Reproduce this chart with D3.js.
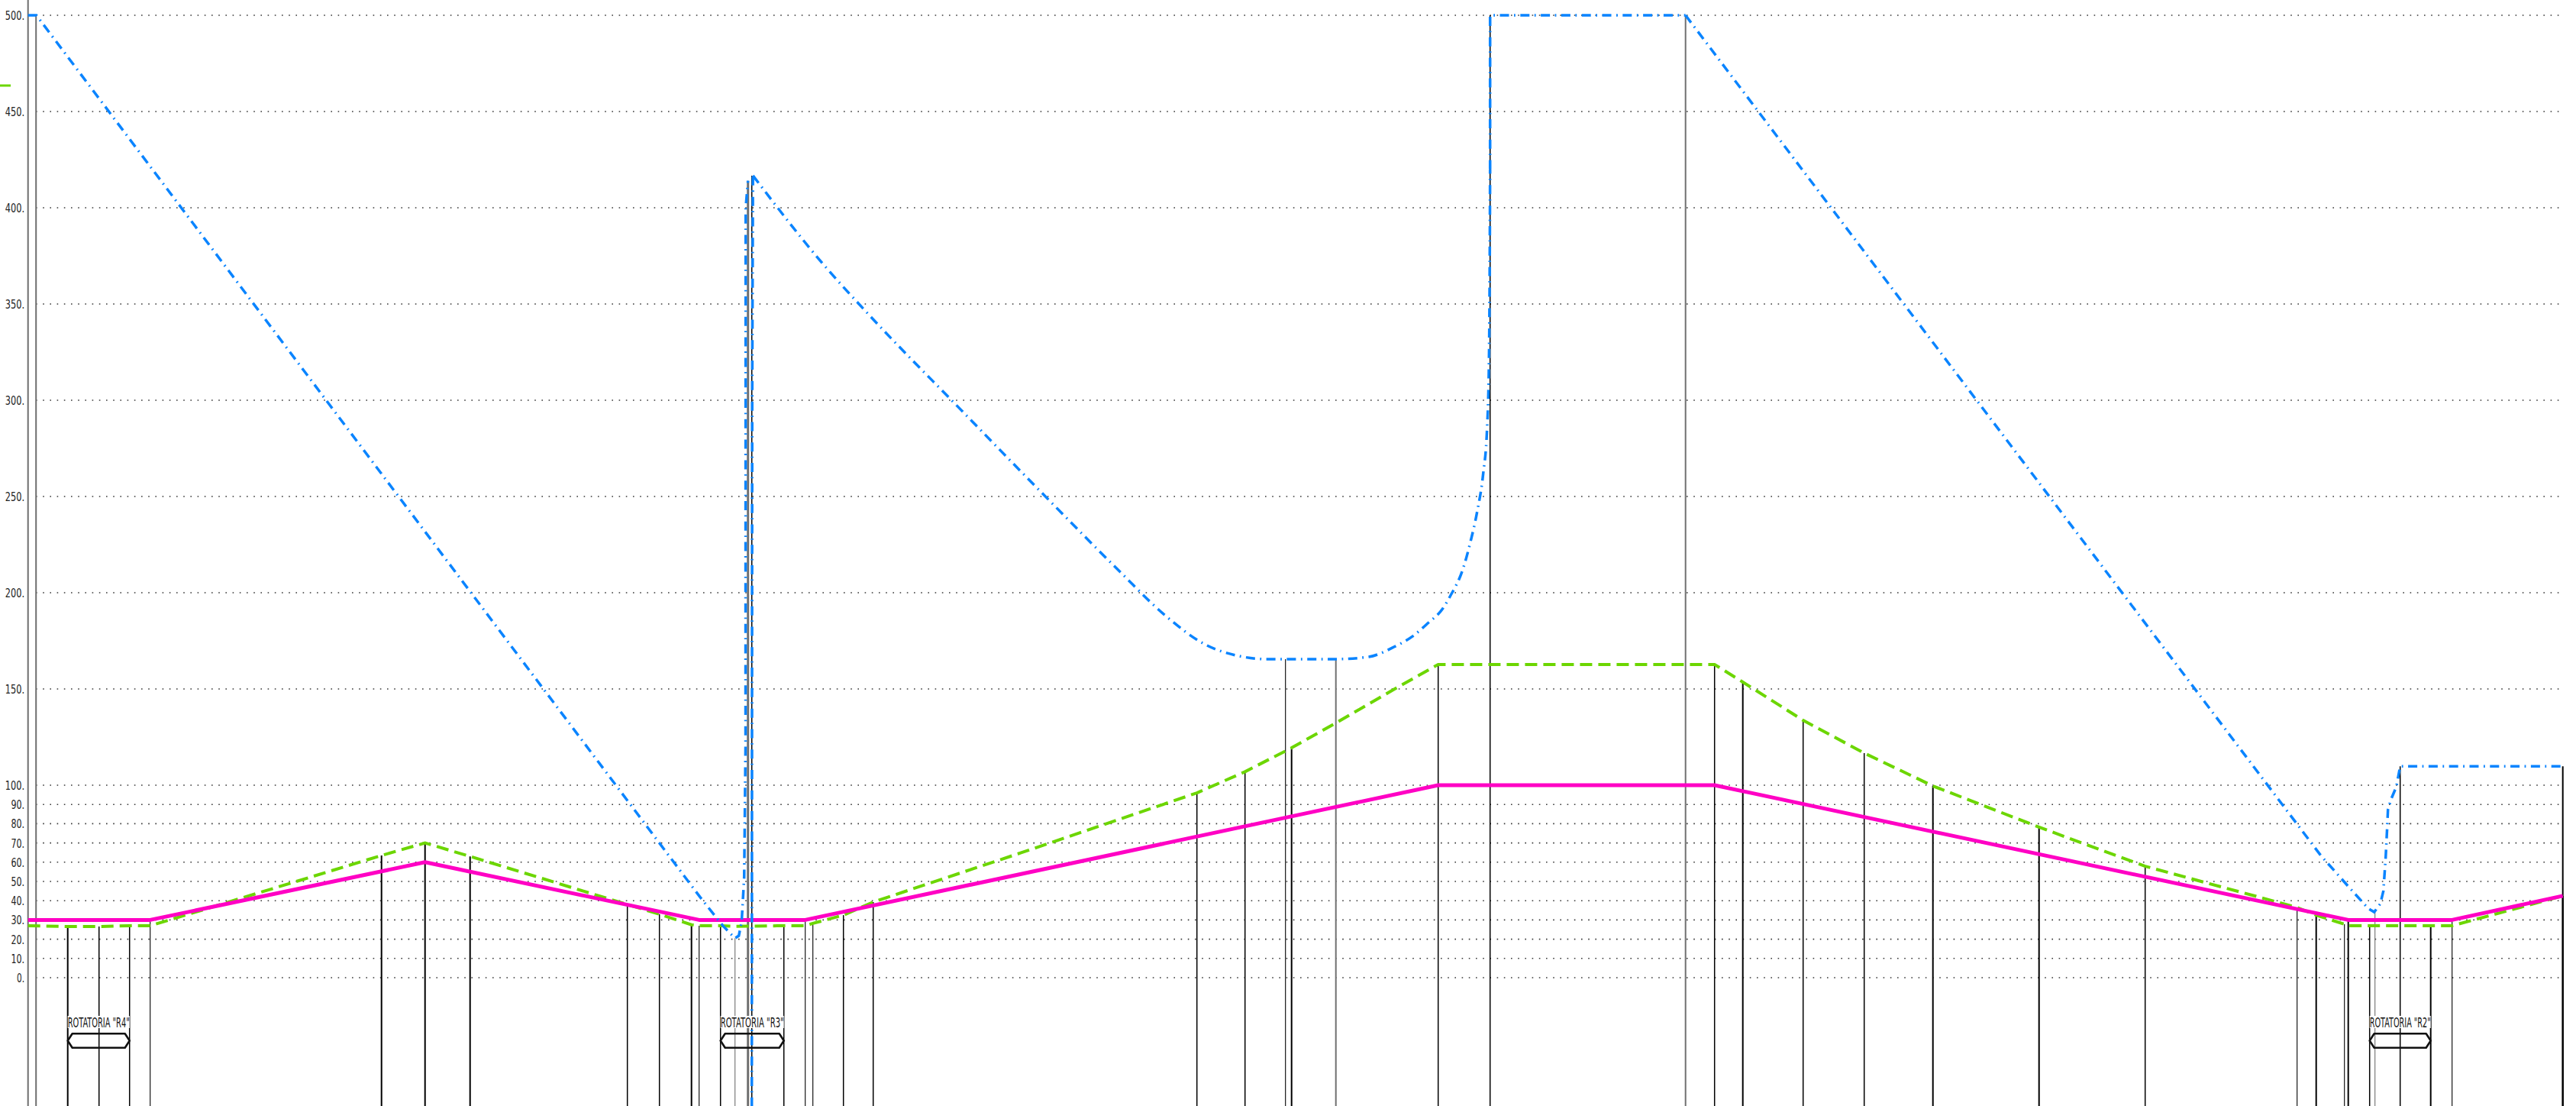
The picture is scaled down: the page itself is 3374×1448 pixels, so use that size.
<!DOCTYPE html>
<html>
<head>
<meta charset="utf-8">
<script src="https://cdn.jsdelivr.net/npm/d3@7"></script>
<style>
  html, body { margin: 0; padding: 0; background: #fff; }
  svg { display: block; }
</style>
</head>
<body>
<svg id="chart" width="3374" height="1448"></svg>
<script>
// ---- data: speed profile along the alignment (chainage in m, speed in km/h) ----
const yTicks = [0, 10, 20, 30, 40, 50, 60, 70, 80, 90, 100, 150, 200, 250, 300, 350, 400, 450, 500];

// operating speed profile (solid)
const speedProfile = [
  [0, 30], [160, 30], [520, 60], [879, 30], [1018, 30], [1847, 100],
  [2209, 100], [3039, 30], [3175, 30], [3320, 42.5]
];

// V85 profile (dashed)
const v85Profile = [
  [0, 27], [52, 26.6], [93, 26.6], [133, 27], [160, 27], [223, 34.5], [463, 63.5],
  [520, 70], [579, 63], [785, 38], [827, 33], [869, 27.5], [879, 27], [907, 27],
  [926, 26.7], [990, 27], [1018, 27], [1028, 28.2], [1068, 32.5], [1107, 39.3],
  [1300, 64.8], [1531, 96], [1594, 107], [1655, 119.4], [1713, 132.3], [1790, 150],
  [1847, 162.7], [2209, 162.7], [2246, 153.6], [2325, 133.7], [2405, 116.7],
  [2495, 99.6], [2634, 78.2], [2773, 57.9], [2972, 36.5], [2997, 32.5], [3034, 27.8],
  [3039, 27], [3067, 27], [3147, 27], [3175, 27], [3320, 42.5]
];

// visibility distance (dash-dot), in separate runs
const visibilityA = [
  [0, 500], [11, 500], [880, 42], [910, 27], [926, 20.5], [931, 21.8], [934.7, 29],
  [938, 52], [939.8, 120], [940, 400], [943, 414]
];
const visibilityRise = [[948, -67], [948.5, 300], [949.5, 416.7]];
const visibilityCurve = [
  [949.5, 416.7], [1043, 370], [1100, 345], [1222, 295], [1340, 247], [1430, 211],
  [1490, 188], [1540, 173.5], [1590, 166.8], [1623, 165.5], [1713, 165.5],
  [1756, 166.7], [1790, 172], [1813, 177.2], [1833, 184], [1853, 191.8], [1863, 198.4],
  [1880, 213], [1889, 226], [1898, 242], [1906, 262], [1911, 285], [1913.5, 320],
  [1914.5, 370], [1915, 420]
];
const visibilityTop = [[1915, 420], [1915, 500], [2171, 500]];
const visibilityC = [
  [2171, 500], [3003, 63.5], [3040, 47], [3065, 36], [3073, 34.1], [3081, 38.4],
  [3085, 45], [3088, 62.3], [3090, 78.2], [3091, 87.3], [3095, 92.6], [3102, 99.2],
  [3107, 109.8], [3320, 109.8]
];

// section stations and the speed reached at each one
const sectionStations = [
  52, 93, 133, 160, 463, 520, 579, 785, 827, 869, 879, 907, 926, 943, 948, 990, 1018,
  1028, 1068, 1107, 1531, 1594, 1647, 1655, 1713, 1847, 1915, 2171, 2209, 2246, 2325,
  2405, 2495, 2634, 2773, 2972, 2997, 3034, 3039, 3067, 3074, 3107, 3147, 3175, 3320
];
const sectionTops = [
  26.6, 26.6, 27, 30, 63.5, 70, 63, 38, 33, 27.5, 27, 27, 20.5, 414, 416.7, 27, 30,
  28.2, 32.5, 39.3, 96, 107, 165.5, 119.4, 165.5, 162.7, 500, 500, 162.7, 153.6, 133.7,
  116.7, 99.6, 78.2, 57.9, 36.5, 32.5, 27.8, 30, 27, 34.1, 109.8, 27, 30, 109.8
];

// roundabouts along the route
const roundaboutNames = ['ROTATORIA "R4"', 'ROTATORIA "R3"', 'ROTATORIA "R2"'];
const roundaboutFrom = [52, 907, 3067];
const roundaboutTo = [133, 990, 3147];

// ---- drawing ----
const svg = d3.select('#chart');
const x = d3.scaleLinear().domain([0, 3320]).range([36.7, 3356.7]);
const y = d3.scaleLinear().domain([0, 500]).range([1280, 20]);
const bottom = 1448;
const condensed = '"Liberation Sans Narrow", "DejaVu Sans Condensed", "Liberation Sans", sans-serif';

// dotted horizontal grid
svg.append('g').selectAll('line').data(yTicks).join('line')
  .attr('x1', 47).attr('x2', 3358)
  .attr('y1', d => y(d)).attr('y2', d => y(d))
  .attr('stroke', '#3a3a3a').attr('stroke-width', 1.6)
  .attr('stroke-dasharray', '1.6,7.6');

// speed axis labels
const axis = d3.axisLeft(y).tickValues(yTicks).tickFormat(d => d + '.')
  .tickSizeInner(0).tickSizeOuter(0).tickPadding(0);
const gAxis = svg.append('g').attr('transform', 'translate(32,0)').call(axis);
gAxis.select('.domain').remove();
gAxis.selectAll('text')
  .attr('font-family', condensed).attr('font-size', 15.5).attr('fill', '#222')
  .attr('dy', '0.36em')
  .attr('textLength', d => String(d).length * 7.6 + 2.4)
  .attr('lengthAdjust', 'spacingAndGlyphs');

// frame lines at the start of the alignment
svg.append('line').attr('x1', x(0)).attr('x2', x(0)).attr('y1', 0).attr('y2', bottom)
  .attr('stroke', '#6e6e6e').attr('stroke-width', 2);
svg.append('line').attr('x1', x(10.5)).attr('x2', x(10.5)).attr('y1', y(500)).attr('y2', bottom)
  .attr('stroke', '#6e6e6e').attr('stroke-width', 2);

// section lines
const grayStations = new Set([926, 943, 1713, 2171, 3074]);
const heavyStations = new Set([52, 463, 520, 579, 869, 943, 1655, 1713, 2171, 2246, 2495, 2634, 2997, 3039, 3147, 3320]);
const lightStations = new Set([160, 879, 926, 1018, 1028, 1647, 2972, 3034, 3074, 3175]);
const sections = sectionStations.map((s, i) => ({ s, top: sectionTops[i] }));
svg.append('g').selectAll('line').data(sections).join('line')
  .attr('x1', d => x(d.s)).attr('x2', d => x(d.s))
  .attr('y1', d => y(d.top)).attr('y2', bottom)
  .attr('stroke', d => grayStations.has(d.s) ? '#707070' : '#000')
  .attr('stroke-width', d => d.s === 943 ? 3 : heavyStations.has(d.s) ? 2 : lightStations.has(d.s) ? 1.1 : 1.5);
// end-of-profile line continues in black below the speed profile
svg.append('line').attr('x1', x(3320)).attr('x2', x(3320))
  .attr('y1', y(42.5)).attr('y2', bottom).attr('stroke', '#000').attr('stroke-width', 2.2);

const line = d3.line().x(d => x(d[0])).y(d => y(d[1]));
const smooth = d3.line().x(d => x(d[0])).y(d => y(d[1])).curve(d3.curveMonotoneX);

// V85 profile
svg.append('path').datum(v85Profile).attr('d', line)
  .attr('fill', 'none').attr('stroke', '#6cd600').attr('stroke-width', 4)
  .attr('stroke-dasharray', '16,8');

// operating speed profile
svg.append('path').datum(speedProfile).attr('d', line)
  .attr('fill', 'none').attr('stroke', '#ff00c4').attr('stroke-width', 5)
  .attr('stroke-linejoin', 'round');

// visibility runs
const blueStyle = p => p.attr('fill', 'none').attr('stroke', '#0a84ff')
  .attr('stroke-width', 3.5).attr('stroke-dasharray', '12,6.5,1.8,6.5');
[visibilityA, visibilityRise, visibilityTop, visibilityC].forEach(run => {
  svg.append('path').datum(run).attr('d', line).call(blueStyle);
});
svg.append('path').datum(visibilityCurve).attr('d', smooth).call(blueStyle);

// legend stub
svg.append('line').attr('x1', 0).attr('x2', 14).attr('y1', 112).attr('y2', 112)
  .attr('stroke', '#6cd600').attr('stroke-width', 3);

// roundabout markers
const rb = roundaboutNames.map((name, i) => ({ name, a: roundaboutFrom[i], b: roundaboutTo[i] }));
const gR = svg.append('g').selectAll('g').data(rb).join('g');
gR.append('rect')
  .attr('x', d => x(d.a)).attr('y', 1330)
  .attr('width', d => x(d.b) - x(d.a)).attr('height', 16).attr('fill', '#fff');
gR.append('text')
  .attr('x', d => x(d.a)).attr('y', 1345)
  .attr('font-family', condensed).attr('font-size', 18).attr('fill', '#111')
  .attr('textLength', d => x(d.b) - x(d.a)).attr('lengthAdjust', 'spacingAndGlyphs')
  .text(d => d.name);
gR.append('path')
  .attr('d', d => {
    const l = x(d.a), r = x(d.b), t = 1353.3, b = 1371.7, m = (t + b) / 2, k = 6;
    return `M${l},${m}L${l + k},${t}L${r - k},${t}L${r},${m}L${r - k},${b}L${l + k},${b}Z`;
  })
  .attr('fill', 'none').attr('stroke', '#111').attr('stroke-width', 2.6)
  .attr('stroke-linejoin', 'round');
</script>
</body>
</html>
